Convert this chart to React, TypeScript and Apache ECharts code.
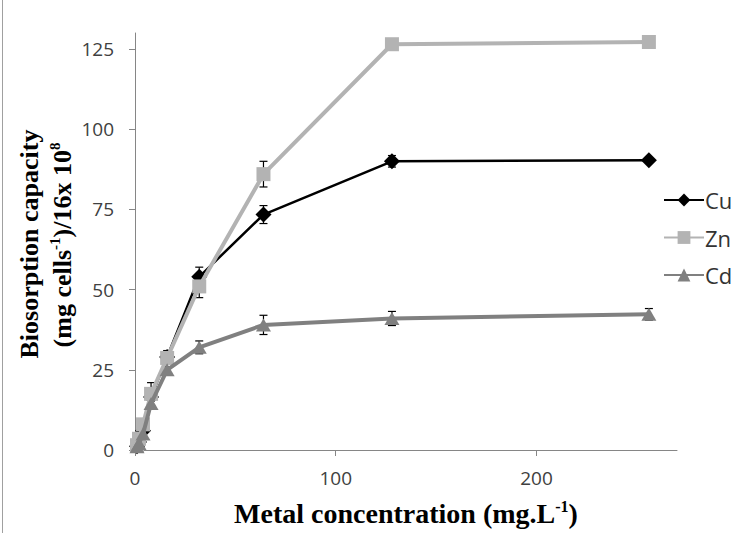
import React, { useEffect, useRef } from "react";
import * as echarts from "echarts";

const concentrations = [1, 2, 4, 8, 16, 32, 64, 128, 256];
const cuValues = [1.2, 2.5, 6, 16.5, 29, 54, 73.4, 90, 90.3];
const znValues = [1.5, 3.5, 8, 17.5, 28.7, 51, 86, 126.5, 127.2];
const cdValues = [1, 2, 5, 14.5, 25, 32, 39, 41, 42.3];
const cuErrors = [0.5, 0.8, 1.5, 2.5, 2, 3, 2.8, 1.8, 0.5];
const znErrors = [0.5, 0.8, 1.5, 3.5, 1.5, 3.5, 4, 0.8, 0.5];
const cdErrors = [0.4, 0.6, 1, 1.5, 1, 2, 3, 2.2, 1.8];
const xTicks = [0, 100, 200];
const yTicks = [0, 25, 50, 75, 100, 125];
const xTitle = ["Metal concentration (mg.L", "-1", ")"];
const yTitleLine1 = "Biosorption capacity";
const yTitleLine2 = ["(mg cells", "-1", ")/16x 10", "8"];

const pairs = (vals: number[]) => concentrations.map((c, i) => [c, vals[i]]);
const errs = (vals: number[], e: number[]) => concentrations.map((c, i) => [c, vals[i], e[i]]);

const errorBarRender = (params: any, api: any) => {
  const x = api.value(0);
  const y = api.value(1);
  const e = api.value(2);
  const top = api.coord([x, y + e]);
  const bot = api.coord([x, y - e]);
  const hw = 4;
  const st = { stroke: "#000", lineWidth: 1.2 };
  return {
    type: "group",
    children: [
      { type: "line", shape: { x1: top[0], y1: top[1], x2: bot[0], y2: bot[1] }, style: st },
      { type: "line", shape: { x1: top[0] - hw, y1: top[1], x2: top[0] + hw, y2: top[1] }, style: st },
      { type: "line", shape: { x1: bot[0] - hw, y1: bot[1], x2: bot[0] + hw, y2: bot[1] }, style: st },
    ],
  };
};

const titleFont = "'Liberation Serif', 'Times New Roman', serif";
const labelFont = "'Open Sans', 'Noto Sans', sans-serif";

const richTitle = (size: number, supSize: number, lh: number) => ({
  b: { fontFamily: titleFont, fontWeight: "bold", fontSize: size, fill: "#000", lineHeight: lh },
  s: { fontFamily: titleFont, fontWeight: "bold", fontSize: supSize, fill: "#000", verticalAlign: "top", lineHeight: lh },
});

export default function App() {
  const ref = useRef<HTMLDivElement>(null);
  useEffect(() => {
    document.body.style.margin = "0";
    if (!ref.current) return;
    const chart = echarts.init(ref.current, null, { renderer: "svg" });
    const errSeries = (name: string, vals: number[], e: number[]) => ({
      type: "custom",
      name,
      renderItem: errorBarRender,
      data: errs(vals, e),
      encode: { x: 0, y: 1 },
      z: 1,
      silent: true,
    });
    chart.setOption({
      animation: false,
      backgroundColor: "#fff",
      grid: { left: 135, right: 59, top: 33, bottom: 83, containLabel: false },
      legend: {
        data: ["Cu", "Zn", "Cd"],
        orient: "vertical",
        left: 658,
        top: 184,
        itemWidth: 40,
        itemHeight: 16,
        itemGap: 15.5,
        textStyle: { fontFamily: labelFont, fontSize: 22, lineHeight: 20, color: "#333", padding: [0, 0, 0, -4] },
      },
      graphic: [
        {
          type: "line",
          shape: { x1: 2.5, y1: 0, x2: 2.5, y2: 533 },
          style: { stroke: "#a0a0a0", lineWidth: 1 },
        },
        {
          type: "text",
          x: 29,
          y: 244,
          rotation: Math.PI / 2,
          style: {
            text: "{b|" + yTitleLine1 + "}",
            rich: richTitle(26, 15, 30),
            align: "center",
            verticalAlign: "middle",
          },
        },
        {
          type: "text",
          x: 62,
          y: 245,
          rotation: Math.PI / 2,
          style: {
            text: "{b|" + yTitleLine2[0] + "}{s|" + yTitleLine2[1] + "}{b|" + yTitleLine2[2] + "}{s|" + yTitleLine2[3] + "}",
            rich: richTitle(26, 15, 30),
            align: "center",
            verticalAlign: "middle",
          },
        },
        {
          type: "text",
          x: 406,
          y: 513,
          style: {
            text: "{b|" + xTitle[0] + "}{s|" + xTitle[1] + "}{b|" + xTitle[2] + "}",
            rich: richTitle(28, 16, 30),
            align: "center",
            verticalAlign: "middle",
          },
        },
      ],
      xAxis: {
        type: "value",
        min: 0,
        max: 270,
        interval: 100,
        axisLine: { lineStyle: { color: "#868686", width: 1 } },
        axisTick: { show: true, length: 6, lineStyle: { color: "#868686" }, customValues: xTicks },
        axisLabel: { customValues: xTicks, fontFamily: labelFont, fontSize: 19, color: "#404040", margin: 18 },
        splitLine: { show: false },
      },
      yAxis: {
        type: "value",
        min: 0,
        max: 130,
        interval: 25,
        axisLine: { show: true, lineStyle: { color: "#868686", width: 1 } },
        axisTick: { show: true, length: 6, lineStyle: { color: "#868686" }, customValues: yTicks },
        axisLabel: { customValues: yTicks, fontFamily: labelFont, fontSize: 19, color: "#404040", margin: 21 },
        splitLine: { show: false },
      },
      series: [
        errSeries("Cu err", cuValues, cuErrors),
        errSeries("Zn err", znValues, znErrors),
        errSeries("Cd err", cdValues, cdErrors),
        {
          type: "line",
          name: "Cu",
          data: pairs(cuValues),
          symbol: "diamond",
          symbolSize: 16,
          lineStyle: { color: "#000", width: 2.5 },
          itemStyle: { color: "#000" },
          z: 2,
        },
        {
          type: "line",
          name: "Zn",
          data: pairs(znValues),
          symbol: "rect",
          symbolSize: 14,
          lineStyle: { color: "#b3b3b3", width: 4 },
          itemStyle: { color: "#b3b3b3" },
          z: 3,
        },
        {
          type: "line",
          name: "Cd",
          data: pairs(cdValues),
          symbol: "triangle",
          symbolSize: [15, 13],
          lineStyle: { color: "#808080", width: 4 },
          itemStyle: { color: "#808080" },
          z: 4,
        },
      ],
    });
    return () => chart.dispose();
  }, []);
  return <div ref={ref} style={{ width: 736, height: 533 }} />;
}
